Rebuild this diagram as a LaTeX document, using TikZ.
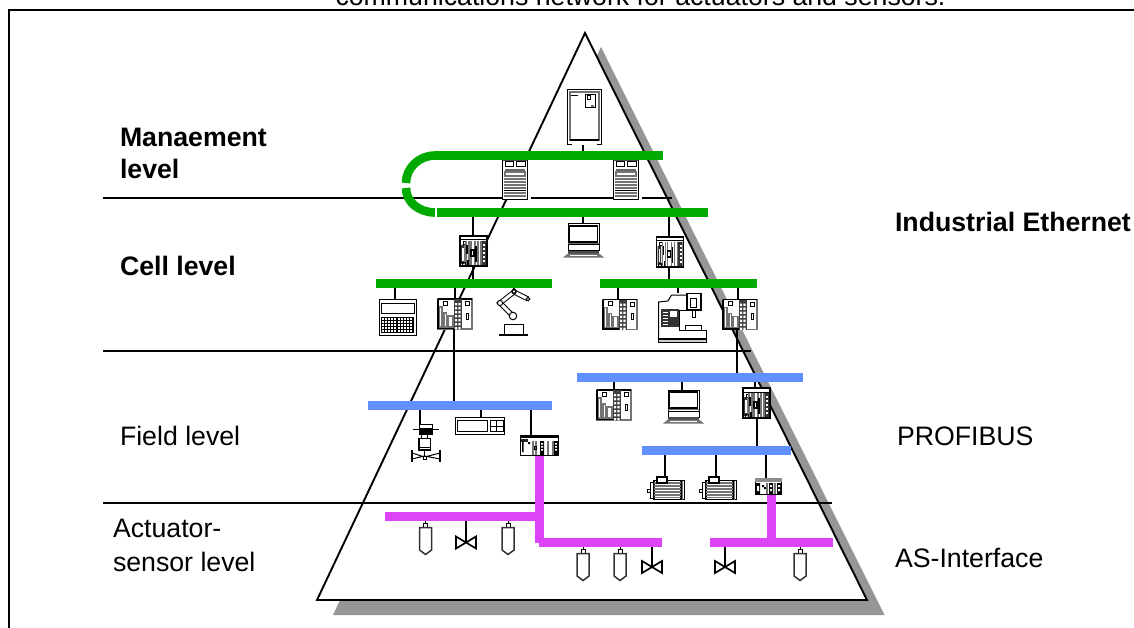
\documentclass[tikz,border=0pt]{standalone}
\usepackage{fontspec}
\setmainfont{Liberation Sans}
\definecolor{gbar}{HTML}{00AA00}
\definecolor{bbar}{HTML}{6090FF}
\definecolor{mbar}{HTML}{DD44F8}
\definecolor{shadowgrey}{HTML}{969696}
\tikzset{
  devbg/.style={fill=white,inner sep=0pt,outer sep=0pt,anchor=north west},
  barnode/.style={inner sep=0pt,outer sep=0pt,anchor=north west},
  wire/.style={line width=1.9pt,black},
  level/.style={line width=2pt,black},
  fine/.style={line width=1pt,black},
  med/.style={line width=1.5pt,black},
  gr/.style={line width=1.1pt,black!55},
  lab/.style={anchor=base west,inner sep=0pt,outer sep=0pt,font=\fontsize{26.7}{31}\selectfont},
  blab/.style={lab,font=\fontsize{26.7}{31}\selectfont\bfseries},
}
\newcommand\busbar[6]{% name,colour,x1,y1,x2,y2
  \node[barnode,fill=#2,minimum width=#5pt-#3pt,minimum height=#6pt-#4pt] (#1) at (#3,#4) {};}
\newcommand\conn[3]{\draw[wire] (#3,0 |- #1.south) -- (#3,0 |- #2.north);}
\newcommand\plcwide[3]{%
  \node[devbg,minimum width=34pt,minimum height=30pt] (#1) at (#2,#3) {};
  \begin{scope}[shift={(#2,#3)}]
    \draw[gr] (0,0) rectangle (34,30);
    \draw[med] (0,0) -- (34,0) (0,29.5) -- (24,29.5) (0,0) -- (0,30);
    \draw[fine] (5,2) rectangle (9,6);
    \draw[gr] (1.5,8) rectangle (4,28) (6,14) rectangle (8.5,28) (10,17) rectangle (15,28);
    \fill[black!75] (16,0) rectangle (23.5,30);
    \foreach \yy in {4,8,...,28}{\fill[white] (17,\yy) rectangle (19.2,\yy+2.4) (20.4,\yy) rectangle (22.6,\yy+2.4);}
    \draw[fine] (27.5,2.5) rectangle (31,6.5) (28,14) rectangle (30.5,20);
  \end{scope}}
\newcommand\plcdark[3]{%
  \node[devbg,minimum width=27pt,minimum height=30pt] (#1) at (#2,#3) {};
  \begin{scope}[shift={(#2,#3)}]
    \draw[med] (0,0) rectangle (27,30);
    \draw[fine] (0,4) -- (27,4);
    \draw[fine] (3,6) rectangle (6,9);
    \fill[black!80] (1,9) rectangle (4.5,28) (21,5) rectangle (26,29);
    \fill[white] (2,12) rectangle (3.5,25);
    \foreach \yy in {8,12,...,26}{\fill[white] (23,\yy) rectangle (25,\yy+2);}
    \draw[gr] (6,5) -- (6,29) (9,5) -- (9,29) (11,5) -- (11,29) (15,5) -- (15,29) (18,5) -- (18,29) (21,5) -- (21,29);
    \draw[med] (7,9) -- (7,18) (11,14) rectangle (14,20) (8,24) -- (8,29) (16,10) -- (16,26);
    \draw[fine] (2,26) rectangle (5,29);
  \end{scope}}
\newcommand\server[3]{%
  \node[devbg,minimum width=29pt,minimum height=40pt] (#1) at (#2,#3) {};
  \begin{scope}[shift={(#2,#3)}]
    \draw[line width=1.6pt] (0.5,0) -- (0.5,39.5) -- (25.5,39.5) -- (25.5,0);
    \draw[fine] (3,2) rectangle (11,7) (14,2) rectangle (23,7);
    \fill[black!70] (1,0) rectangle (25,1.5);
    \fill[black!60] (3,9.5) rectangle (23,11);
    \draw[gr] (3,12) rectangle (23,16);
    \foreach \yy in {19,22,25,28,33,36}{\draw[gr] (2,\yy) -- (24,\yy);}
    \draw[fine] (2,30.5) -- (24,30.5);
  \end{scope}}
\newcommand\laptop[3]{%
  \node[devbg,minimum width=41pt,minimum height=34pt] (#1) at (#2,#3) {};
  \begin{scope}[shift={(#2,#3)}]
    \draw[fine] (5,0) rectangle (36,21);
    \draw[med] (6.5,2) rectangle (34.5,18);
    \draw[gr] (5,19.5) -- (36,19.5);
    \draw[fine] (5,21) -- (5,27) -- (36,27) -- (36,21);
    \fill[black!70] (5,27) rectangle (36,29.5);
    \fill[black!55] (5,29.5) -- (36,29.5) -- (41,33.5) -- (0,33.5) -- cycle;
    \fill[white] (7,30.5) rectangle (34,31.5);
  \end{scope}}
\newcommand\cabinet[3]{%
  \node[devbg,minimum width=35pt,minimum height=56pt] (#1) at (#2,#3) {};
  \begin{scope}[shift={(#2,#3)}]
    \draw[med] (0.5,0.5) rectangle (34.5,55.5);
    \draw[gr] (3,3) rectangle (32,51);
    \fill[white] (5,51.5) rectangle (30,56.5);
    \draw[med] (3,51) -- (32,51);
    \draw[fine] (4,7) -- (11,7);
    \draw[fine] (18,6) rectangle (28,18.5) (20,7) rectangle (23,11);
    \draw[gr] (24,17) -- (27,17);
  \end{scope}}
\newcommand\keypad[3]{%
  \node[devbg,minimum width=38pt,minimum height=37pt] (#1) at (#2,#3) {};
  \begin{scope}[shift={(#2,#3)}]
    \draw[med] (0.5,0.5) rectangle (37.5,36.5);
    \draw[fine] (2.5,4) rectangle (35,14);
    \foreach \xx in {2,18}{
      \draw[fine] (\xx,18) rectangle ++(16,15);
      \foreach \dd in {3,6,...,15}{\draw[fine] (\xx+\dd,18) -- (\xx+\dd,33);}
      \foreach \dd in {3,6,...,12}{\draw[fine] (\xx,18+\dd) -- (\xx+16,18+\dd);}
    }
  \end{scope}}
\newcommand\robot[3]{%
  \node[inner sep=0pt,outer sep=0pt,anchor=north west,minimum width=36pt,minimum height=49pt] (#1) at (#2,#3) {};
  \begin{scope}[shift={(#2,#3)}]
    \draw[fine,fill=white] (7.5,36.5) rectangle (26.5,46.5);
    \draw[med] (2,47) -- (31,47);
    \draw[line width=5pt] (16,28) -- (3,15) -- (17,4) -- (31,11);
    \draw[line width=3pt,white] (16,28) -- (3,15) -- (17,4) -- (31,11);
    \draw[fine,fill=white] (16,28) circle (3.8);
    \draw[fine,fill=white] (3,15) circle (2.6);
    \draw[med,fill=white] (17,3.5) circle (2);
    \draw[fine,fill=white] (31,11) circle (1.8);
    \draw[med] (17,0) -- (17,2);
  \end{scope}}
\newcommand\cnc[3]{%
  \node[inner sep=0pt,outer sep=0pt,anchor=north west,minimum width=49pt,minimum height=50pt] (#1) at (#2,#3) {};
  \begin{scope}[shift={(#2,#3)}]
    \draw[fine] (0.5,46) -- (0.5,9) -- (10,8) -- (13.5,2) -- (29,2);
    \draw[med,fill=white] (29,0.5) rectangle (43,17);
    \draw[fine] (32,5) rectangle (38.5,14);
    \draw[fine] (34,17) rectangle (37.5,24);
    \fill[black!80] (3,16) rectangle (21,33.5);
    \fill[white] (12,18) rectangle (19,24);
    \foreach \yy in {19,22,...,31}{\fill[white] (5,\yy) rectangle (10,\yy+1.4);}
    \draw[fine] (21,17) -- (29,17) (21,17) -- (21,37) -- (48,37) -- (48,45.5) -- (0.5,45.5);
    \draw[fine] (27.5,36.5) -- (27.5,32) -- (43.5,32) -- (43.5,36.5);
    \draw[fine,fill=black!20] (0.5,46.5) rectangle (48.5,49.5);
  \end{scope}}
\newcommand\valve[3]{%
  \node[inner sep=0pt,outer sep=0pt,anchor=north west,minimum width=29pt,minimum height=38pt] (#1) at (#2,#3) {};
  \begin{scope}[shift={(#2,#3)}]
    \draw[fine] (7.5,0.5) rectangle (21,10);
    \fill (7.5,4) rectangle (21,9.5);
    \draw[med] (1,5.5) -- (27,5.5);
    \draw[med] (7.5,14.5) rectangle (19,26);
    \draw[fine] (10,10) -- (10,14.5) (16,10) -- (16,14.5);
    \draw[fine] (8,23) -- (18,23);
    \draw[line width=1.6pt] (0.5,26) -- (0.5,37.5) (28.5,26) -- (28.5,37.5);
    \draw[fine] (0.5,29) -- (13,33) -- (28.5,29) (0.5,35) -- (13,32) -- (28.5,35);
    \draw[fine] (13,26) -- (13,34);
    \fill[white] (11.5,32) rectangle (15,35);
    \draw[fine] (11.5,32) rectangle (15,35);
  \end{scope}}
\newcommand\panel[3]{%
  \node[devbg,minimum width=50pt,minimum height=18pt] (#1) at (#2,#3) {};
  \begin{scope}[shift={(#2,#3)}]
    \draw[med] (0.5,0.5) rectangle (49.5,17.5);
    \draw[fine] (2.5,3.5) rectangle (32,14.5) (35,3.5) rectangle (48,14.5);
    \draw[fine] (41.5,3.5) -- (41.5,14.5) (35,9) -- (48,9);
  \end{scope}}
\newcommand\ctlwide[3]{%
  \node[devbg,minimum width=39pt,minimum height=21pt] (#1) at (#2,#3) {};
  \begin{scope}[shift={(#2,#3)}]
    \draw[med] (0.5,0.5) rectangle (38.5,20.5);
    \fill (0,0) rectangle (39,3);
    \fill[white] (0.5,4) rectangle (38,6);
    \fill[black!85] (1,4) rectangle (8,6.5);
    \fill (2,6.5) rectangle (3.5,17) (8,7) rectangle (10,9) (20,6) rectangle (24,20) (34,6) rectangle (38,20);
    \fill[white] (21,8) rectangle (23,9.5) (21,11) rectangle (23,12.5) (21,14) rectangle (23,15.5) (35,8) rectangle (37,9.5) (35,11) rectangle (37,12.5) (35,14) rectangle (37,15.5);
    \draw[gr] (13,6) -- (13,20) (16,6) -- (16,20) (28,6) -- (28,20) (33,6) -- (33,20);
    \draw[fine] (14,11) rectangle (16,14);
  \end{scope}}
\newcommand\ctlsmall[3]{%
  \node[devbg,minimum width=27pt,minimum height=17pt] (#1) at (#2,#3) {};
  \begin{scope}[shift={(#2,#3)}]
    \draw[med] (0.5,0.5) rectangle (26.5,16.5);
    \fill[black!45] (0,0) rectangle (27,3.5);
    \fill (1,5) rectangle (5,16) (22,5) rectangle (26,16) (14,5) rectangle (18,16);
    \fill[white] (2,8) rectangle (4,13) (23,7) rectangle (25,9) (23,11) rectangle (25,13) (15,7) rectangle (17,9) (15,11) rectangle (17,13);
    \fill (7,7) rectangle (9,9) (9,9) rectangle (11,11);
    \draw[gr] (12,5) -- (12,16) (20,5) -- (20,16);
  \end{scope}}
\newcommand\motor[3]{%
  \node[inner sep=0pt,outer sep=0pt,anchor=north west,minimum width=37pt,minimum height=0pt] (#1) at (#2,#3) {};
  \begin{scope}[shift={(#2,#3)}]
    \draw[fine] (0,12) rectangle (3,15.5);
    \draw[fine] (3,5) rectangle (7,21.5);
    \draw[line width=1.6pt] (7,3.5) rectangle (34,22.5);
    \foreach \yy in {6,9,12,15,18,20.5}{\draw[gr] (7,\yy) -- (34,\yy);}
    \draw[fine] (34,3.5) -- (37,3.5) -- (37,22.5) -- (34,22.5);
    \draw[gr] (35.2,3.5) -- (35.2,22.5);
    \draw[med,fill=white] (10,0) rectangle (20,6);
  \end{scope}}
\newcommand\sensor[3]{% name, centre x, top of body y
  \node[inner sep=0pt,outer sep=0pt,anchor=north,minimum width=13pt,minimum height=0pt] (#1) at (#2,#3) {};
  \begin{scope}[shift={(#2,#3)}]
    \draw[fine,fill=white] (-2,-4) rectangle (2,0);
    \draw[med,fill=white,draw=black!80] (-6,0.5) -- (6,0.5) -- (6,23) -- (0,27.5) -- (-6,23) -- cycle;
  \end{scope}}
\newcommand\butterfly[3]{% name, centre x, centre y
  \coordinate (#1) at (#2,#3);
  \begin{scope}[shift={(#2,#3)}]
    \draw[line width=1.7pt,line join=miter] (-10,-6) -- (10,6) -- (10,-6) -- (-10,6) -- cycle;
  \end{scope}}
\begin{document}
\begin{tikzpicture}[x=1pt,y=-1pt]
\useasboundingbox (0,0) rectangle (1134,628);
\fill[white] (0,0) rectangle (1134,628);
% caption and frame
\node[anchor=base,inner sep=0pt,font=\fontsize{26.7}{31}\selectfont] (cap) at (640.5,5.5) {communications network for actuators and sensors.};
\coordinate (fa) at (9,628);
\coordinate (fb) at (9,10);
\coordinate (fc) at (1134,10);
\draw[line width=2pt] (fa) -- (fb) -- (fc);
% pyramid
\coordinate (ap) at (585,33);
\coordinate (bl) at (317,600);
\coordinate (br) at (867,600);
\fill[shadowgrey] (601,47) -- (884.5,615) -- (333,615) -- cycle;
\fill[white] (ap) -- (br) -- (bl) -- cycle;
\draw[line width=1.9pt,line join=miter] (ap) -- (br) -- (bl) -- cycle;
% level lines
\coordinate (l1a) at (103,198.5); \coordinate (l1b) at (672,198.5);
\coordinate (l2a) at (103,351); \coordinate (l2b) at (751,351);
\coordinate (l3a) at (103,503); \coordinate (l3b) at (832,503);
\draw[level] (l1a) -- (l1b);
\draw[level] (l2a) -- (l2b);
\draw[level] (l3a) -- (l3b);
% devices
\cabinet{cab}{567}{89}
\server{srva}{502}{160}
\server{srvb}{613}{160}
\plcdark{plca}{460}{236}
\laptop{lapa}{563}{224}
\plcdark{plcb}{656.5}{237}
\keypad{kpd}{379}{299}
\plcwide{rka}{438}{299}
\robot{rob}{497}{288}
\plcwide{rkb}{603}{299.5}
\cnc{mill}{658}{293}
\plcwide{rkc}{723}{299.5}
\plcwide{rkd}{597}{390}
\laptop{lapb}{663}{390}
\plcdark{plcc}{743}{388}
\valve{vlv}{411.5}{424}
\panel{dsp}{455}{417}
\ctlwide{ctla}{520}{435}
\motor{mota}{647}{477}
\motor{motb}{699}{477}
\ctlsmall{ctlb}{755}{478}
\sensor{sa}{425.5}{527}
\sensor{sb}{508}{527}
\sensor{sc}{583}{553}
\sensor{sd}{620}{553}
\sensor{se}{800}{553}
\butterfly{va}{466}{542.5}
\butterfly{vb}{652}{567}
\butterfly{vc}{725}{567}
% buses
\busbar{gta}{gbar}{435}{151}{663}{160}
\busbar{gtb}{gbar}{437}{208}{708}{217}
\busbar{gcl}{gbar}{376}{279}{552}{288}
\busbar{gcr}{gbar}{600}{279}{757}{288}
\busbar{bfr}{bbar}{577}{373}{803}{382}
\busbar{bfl}{bbar}{368}{401}{552}{410}
\busbar{bfs}{bbar}{642}{446}{791}{455}
\busbar{mal}{mbar}{385}{512}{544}{521}
\busbar{mam}{mbar}{539}{538}{662}{547}
\busbar{mar}{mbar}{710}{538}{833}{547}
% ring
\coordinate (ra) at (406,183);
\coordinate (rb) at (406,188);
\draw[gbar,line width=8.6pt] (gta.west) .. controls (419,155.5) and (406,168) .. (ra);
\draw[gbar,line width=8.6pt] (rb) .. controls (406,202) and (419,212.5) .. (435,212.5);
% thick connectors
\draw[mbar,line width=9pt] (539.5,0 |- ctla.south) -- (539.5,0 |- mam.center);
\draw[mbar,line width=9pt] (771.5,0 |- ctlb.south) -- (771.5,0 |- mar.north);
% wire connectors
\draw[wire] (583,0 |- cab.south) -- (583,0 |- gta.north);
\draw[wire] (473,0 |- gtb.south) -- (473,0 |- plca.north);
\draw[wire] (583,0 |- gtb.south) -- (583,0 |- lapa.north);
\draw[wire] (669,0 |- gtb.south) -- (669,0 |- plcb.north);
\draw[wire] (473,0 |- plca.south) -- (473,0 |- gcl.north);
\draw[wire] (669,0 |- plcb.south) -- (669,0 |- gcr.north);
\conn{gcl}{kpd}{395}
\draw[wire] (455,0 |- gcl.south) -- (455,0 |- rka.north);
\draw[wire] (454,0 |- rka.south) -- (454,0 |- bfl.north);
\conn{gcr}{rkb}{618}
\conn{gcr}{mill}{678}
\conn{gcr}{rkc}{738}
\draw[wire] (737,0 |- rkc.south) -- (737,0 |- bfr.north);
\conn{bfr}{rkd}{614}
\conn{bfr}{lapb}{682}
\conn{bfr}{plcc}{755}
\draw[wire] (757,0 |- plcc.south) -- (757,0 |- bfs.north);
\conn{bfl}{vlv}{420}
\conn{bfl}{dsp}{481}
\conn{bfl}{ctla}{531}
\conn{bfs}{mota}{665}
\conn{bfs}{motb}{716}
\conn{bfs}{ctlb}{766}
\draw[wire,line width=1pt] (425.5,0 |- mal.south) -- (425.5,523);
\draw[wire,line width=1pt] (508,0 |- mal.south) -- (508,523);
\draw[wire,line width=1pt] (583,0 |- mam.south) -- (583,549);
\draw[wire,line width=1pt] (620,0 |- mam.south) -- (620,549);
\draw[wire,line width=1pt] (800,0 |- mar.south) -- (800,549);
\draw[wire] (va |- mal.south) -- (va);
\draw[wire] (vb |- mam.south) -- (vb);
\draw[wire] (vc |- mar.south) -- (vc);
% labels
\node[blab] (t1) at (120,147) {Manaement};
\node[blab] (t2) at (120,179) {level};
\node[blab] (t3) at (120,275) {Cell level};
\node[lab] (t4) at (120,445) {Field level};
\node[lab] (t5) at (113,537) {Actuator-};
\node[lab] (t6) at (113,571) {sensor level};
\node[blab] (t7) at (895,232) {Industrial Ethernet};
\node[lab] (t8) at (897,445) {PROFIBUS};
\node[lab] (t9) at (895,567) {AS-Interface};
\end{tikzpicture}
\end{document}
